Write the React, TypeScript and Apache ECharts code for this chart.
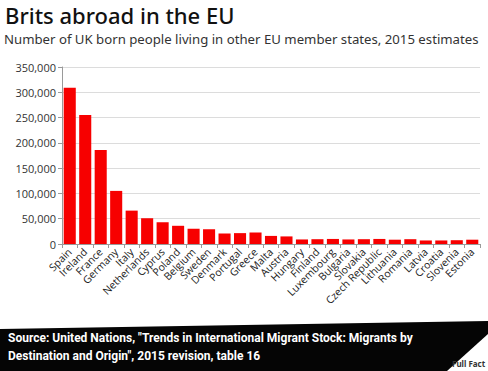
import React, { useEffect, useRef } from "react";
import * as echarts from "echarts";

const countries = [
  "Spain", "Ireland", "France", "Germany", "Italy", "Netherlands", "Cyprus", "Poland",
  "Belgium", "Sweden", "Denmark", "Portugal", "Greece", "Malta", "Austria", "Hungary",
  "Finland", "Luxembourg", "Bulgaria", "Slovakia", "Czech Republic", "Lithuania",
  "Romania", "Latvia", "Croatia", "Slovenia", "Estonia",
];
const ukBorn = [
  309000, 255000, 186000, 105000, 66000, 51000, 43000, 36000,
  30000, 29000, 21000, 21500, 22500, 16000, 15000, 9000,
  9500, 10000, 9000, 9500, 10000, 8500,
  9500, 7000, 7000, 7500, 8500,
];
const yTicks = [0, 50000, 100000, 150000, 200000, 250000, 300000, 350000];

const title = "Brits abroad in the EU";
const subtitle = "Number of UK born people living in other EU member states, 2015 estimates";
const sourceLine1 = "Source: United Nations, \"Trends in International Migrant Stock: Migrants by";
const sourceLine2 = "Destination and Origin\", 2015 revision, table 16";

export default function App() {
  const ref = useRef<HTMLDivElement>(null);
  useEffect(() => {
    if (!ref.current) return;
    const chart = echarts.init(ref.current, null, { renderer: "svg" });
    chart.setOption({
      animation: false,
      backgroundColor: "#ffffff",
      textStyle: { fontFamily: "Noto Sans" },
      grid: { left: 62, right: 8, top: 67, bottom: 127 },
      xAxis: {
        type: "category",
        data: countries,
        axisLine: { show: true, lineStyle: { color: "#9a9a9a" } },
        axisTick: { show: true, alignWithLabel: false, length: 4, lineStyle: { color: "#9a9a9a" } },
        axisLabel: {
          rotate: 45,
          interval: 0,
          fontSize: 10.5,
          color: "#222",
          fontFamily: "Open Sans",
          margin: 6,
        },
      },
      yAxis: {
        type: "value",
        min: 0,
        max: yTicks[yTicks.length - 1],
        interval: 50000,
        axisLine: { show: true, lineStyle: { color: "#9a9a9a" } },
        axisTick: { show: true, length: 4, lineStyle: { color: "#9a9a9a" } },
        splitLine: { show: true, lineStyle: { color: "#dcdcdc" } },
        axisLabel: {
          fontSize: 11,
          color: "#333",
          fontFamily: "Open Sans",
          margin: 6,
          formatter: (v: number) => v.toLocaleString("en-US"),
        },
      },
      series: [
        {
          type: "bar",
          data: ukBorn,
          barCategoryGap: "22%",
          itemStyle: { color: "#f70000" },
        },
      ],
      graphic: [
        {
          type: "text",
          left: 5,
          top: 4,
          style: { text: title, fontSize: 22, fontWeight: 500, fill: "#111", fontFamily: "Noto Sans" },
        },
        {
          type: "text",
          left: 4,
          top: 32,
          style: { text: subtitle, fontSize: 13.2, fill: "#333", fontFamily: "Noto Sans" },
        },
        {
          type: "polygon",
          shape: { points: [[0, 329], [488, 321], [488, 371], [0, 371]] },
          style: { fill: "#050505" },
        },
        {
          type: "text",
          left: 8,
          top: 332,
          style: { text: sourceLine1, fontSize: 12, fontWeight: "bold", fill: "#ffffff", fontFamily: "Roboto" },
        },
        {
          type: "text",
          left: 8,
          top: 350,
          style: { text: sourceLine2, fontSize: 12, fontWeight: "bold", fill: "#ffffff", fontFamily: "Roboto" },
        },
        {
          type: "polygon",
          shape: { points: [[447, 371], [488, 334], [488, 371]] },
          style: { fill: "#ffffff" },
        },
        {
          type: "text",
          left: 452,
          top: 359,
          style: { text: "Full Fact", fontSize: 8, fontWeight: "bold", fill: "#333", fontFamily: "Noto Sans" },
        },
      ],
    });
    return () => chart.dispose();
  }, []);
  return <div ref={ref} style={{ width: 488, height: 371, position: "fixed", left: 0, top: 0 }} />;
}
